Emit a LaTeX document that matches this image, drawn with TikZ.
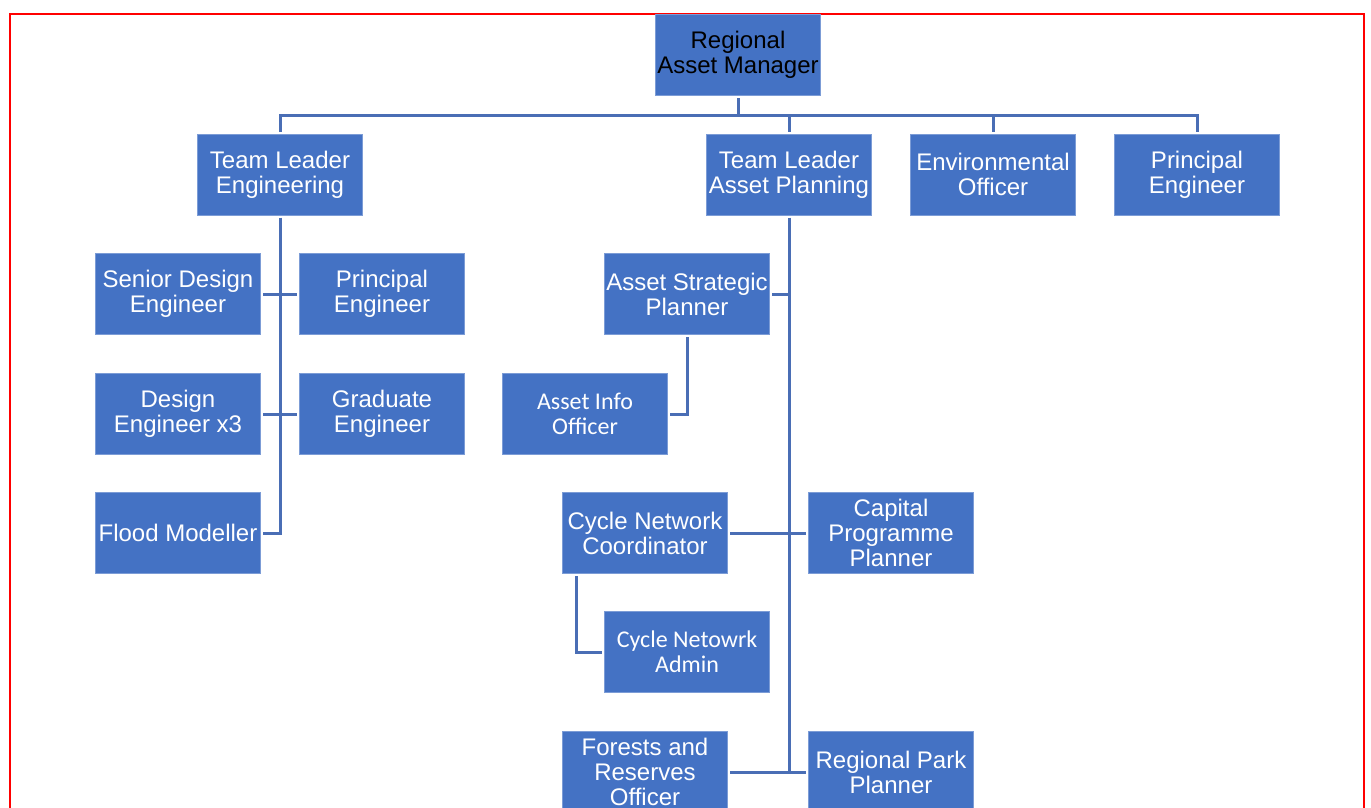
\documentclass[tikz,border=0pt]{standalone}
\usepackage{fontspec}
\setmainfont{Liberation Sans}
\newfontfamily\calibri{Carlito}
\usetikzlibrary{positioning, calc}
\definecolor{boxblu}{HTML}{4472C4}
\definecolor{lineablu}{HTML}{4A6EB5}

\begin{document}
\begin{tikzpicture}[
  x=1pt, y=-1pt,
  font=\fontsize{24}{25}\selectfont,
  casella/.style={fill=boxblu, draw=boxblu!70!white, line width=0.6pt, text=white, align=center,
                  minimum width=165pt, minimum height=81pt, inner sep=0pt, outer sep=2.5pt},
  linea/.style={draw=lineablu, line width=3pt}
]

\useasboundingbox (0,0) rectangle (1371,807);
\clip (0,0) rectangle (1371,807);

% cornice
\draw[red, line width=2pt] (9.5,830) -- (9.5,13.5) -- (1364,13.5) -- (1364,830);

% vertice e primo livello
\node[casella, text=black] (ram)  at (738,55)    {Regional\\ Asset Manager};
\node[casella] (tle)  at (280,174.5)  {Team Leader\\ Engineering};
\node[casella] (tlap) at (789,174.5)  {Team Leader\\ Asset Planning};
\node[casella] (eo)   at (993,174.5)  {Environmental\\ Officer};
\node[casella] (pe)   at (1197,174.5) {Principal\\ Engineer};

% ramo engineering
\node[casella] (sde) at (178,294) {Senior Design\\ Engineer};
\node[casella] (pe2) at (382,294) {Principal\\ Engineer};
\node[casella] (de)  at (178,414) {Design\\ Engineer x3};
\node[casella] (ge)  at (382,414) {Graduate\\ Engineer};
\node[casella] (fm)  at (178,533) {Flood Modeller};

% ramo asset planning
\node[casella] (asp) at (687,294) {Asset Strategic\\ Planner};
\node[casella, font=\calibri\fontsize{24}{25}\selectfont] (aio) at (585,414) {Asset Info\\ Officer};
\node[casella] (cnc) at (645,533) {Cycle Network\\ Coordinator};
\node[casella] (cpp) at (891,533) {Capital\\ Programme\\ Planner};
\node[casella, font=\calibri\fontsize{24}{25}\selectfont] (cna) at (687,652) {Cycle Netowrk\\ Admin};
\node[casella] (fro) at (645,772) {Forests and\\ Reserves\\ Officer};
\node[casella] (rpp) at (891,772) {Regional Park\\ Planner};

% collegamenti primo livello
\coordinate (bus) at (0,115);
\draw[linea] (ram.south) -- (ram.south |- bus);
\draw[linea] (tle.north) -- (tle.north |- bus) -- (pe.north |- bus) -- (pe.north);
\draw[linea] (tlap.north) -- (tlap.north |- bus);
\draw[linea] (eo.north) -- (eo.north |- bus);

% collegamenti engineering
\draw[linea] (tle.south) -- (tle.south |- fm.east) -- (fm.east);
\draw[linea] (sde.east) -- (pe2.west);
\draw[linea] (de.east) -- (ge.west);

% collegamenti asset planning
\draw[linea] (tlap.south) -- (tlap.south |- fro.east);
\draw[linea] (asp.east) -- (asp.east -| tlap.south);
\draw[linea] (asp.south) |- (aio.east);
\draw[linea] (cnc.east) -- (cpp.west);
\draw[linea] ([xshift=16pt]cnc.south west) |- (cna.west);
\draw[linea] (fro.east) -- (rpp.west);

\end{tikzpicture}
\end{document}
